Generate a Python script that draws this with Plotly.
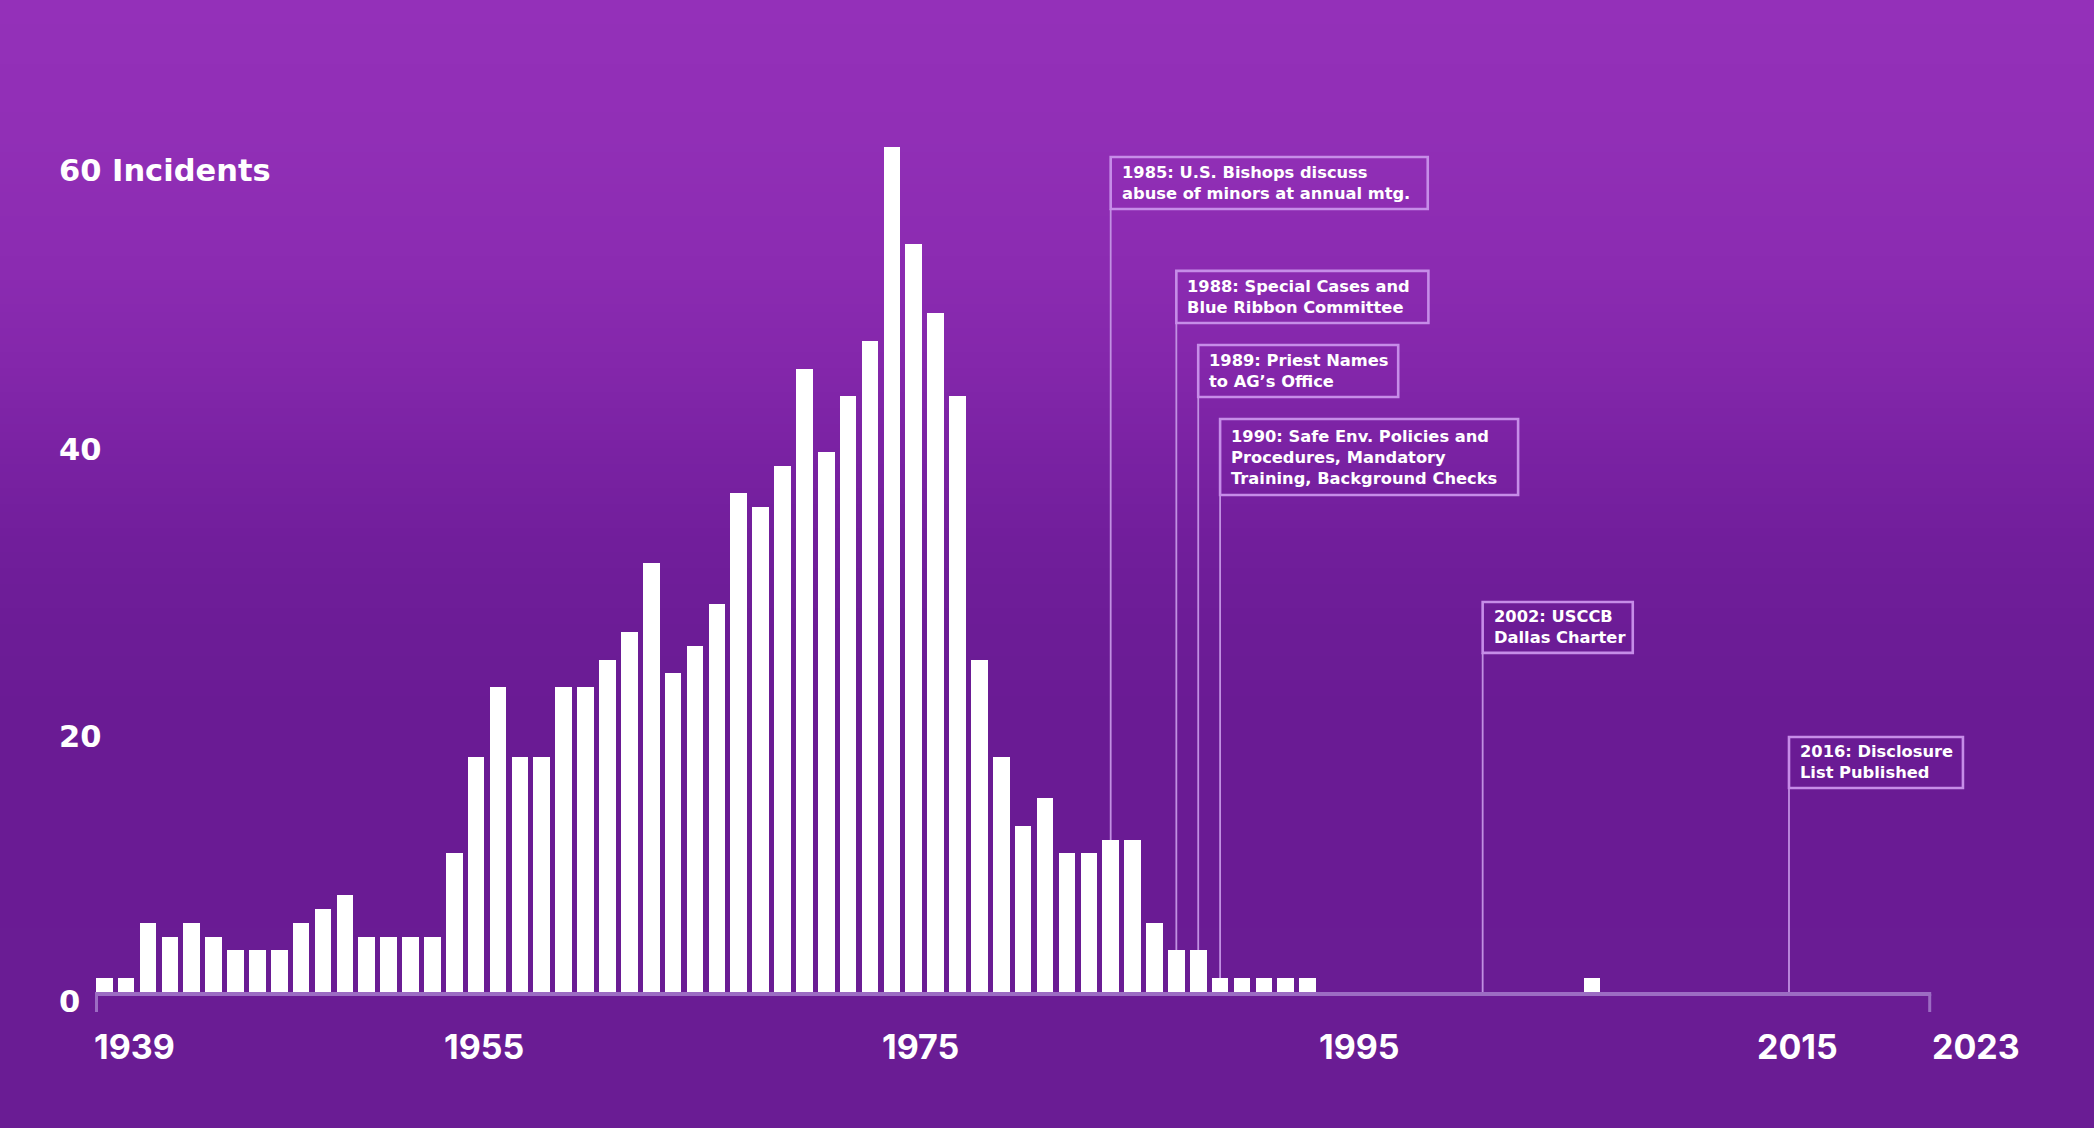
import numpy as np
import plotly.graph_objects as go

# ---------------- data ----------------
years = list(range(1939, 1995)) + [2007]
incidents = [1, 1, 5, 4, 5, 4, 3, 3, 3, 5, 6, 7, 4, 4, 4, 4,          # 1939-1954
             10, 17, 22, 17, 17, 22, 22, 24, 26, 31, 23, 25, 28,      # 1955-1967
             36, 35, 38, 45, 39, 43, 47, 61, 54, 49, 43, 24, 17,      # 1968-1980
             12, 14, 10, 10, 11, 11, 5, 3, 3, 1, 1, 1, 1, 1,          # 1981-1994
             1]                                                       # 2007

x_tick_years = [1939, 1955, 1975, 1995, 2015, 2023]
x_tick_labels = ["1939", "1955", "1975", "1995", "2015", "2023"]

y_tick_values = [0, 20, 40, 60]
y_tick_labels = ["0", "20", "40", "60 Incidents"]

event_years = [1985, 1988, 1989, 1990, 2002, 2016]
event_heads = ["1985:", "1988:", "1989:", "1990:", "2002:", "2016:"]
event_texts = [
    "U.S. Bishops discuss<br>abuse of minors at annual mtg.",
    "Special Cases and<br>Blue Ribbon Committee",
    "Priest Names<br>to AG’s Office",
    "Safe Env. Policies and<br>Procedures, Mandatory<br>Training, Background Checks",
    "USCCB<br>Dallas Charter",
    "Disclosure<br>List Published",
]

# ---------------- layout / style constants ----------------
W, H = 2094, 1128
X_RANGE = [1934.238, 2029.94]
Y_RANGE = [-9.82, 71.62]
PX_PER_YEAR = W / (X_RANGE[1] - X_RANGE[0])
PX_PER_UNIT = H / (Y_RANGE[1] - Y_RANGE[0])

# event box geometry: width (years), top, bottom (data units)
box_widths = [14.49, 11.52, 9.14, 13.62, 6.86, 7.95]
box_tops = [60.29, 52.06, 46.71, 41.37, 28.16, 18.41]
box_bottoms = [56.53, 48.30, 42.96, 35.88, 24.48, 14.73]

# decorative label positions for the y labels (data units)
y_label_pos = [-0.72, 18.48, 39.2, 59.28]

FONT = "Inter, 'Open Sans', 'DejaVu Sans', sans-serif"
WIDE_FONT = "'DejaVu Sans', 'Open Sans', sans-serif"
BORDER = "#C68DE8"
LINE_C = "#C190E2"
AXIS_C = "#9C6CC3"

grad_pos = [0.0, 0.12, 0.24, 0.32, 0.40, 0.48, 0.56, 0.64, 1.0]
grad_rgb = [(148, 48, 185), (145, 47, 182), (139, 43, 177), (132, 39, 171),
            (122, 34, 163), (113, 30, 155), (108, 28, 150), (106, 27, 148), (106, 28, 148)]

shapes = []
# background gradient bands
step = 8
for y0 in range(0, H, step):
    f = (y0 + step / 2) / H
    c = [int(round(np.interp(f, grad_pos, [g[i] for g in grad_rgb]))) for i in range(3)]
    shapes.append(dict(type="rect", xref="paper", yref="paper", x0=0, x1=1,
                       y0=1 - (y0 + step + 1) / H, y1=1 - y0 / H,
                       fillcolor=f"rgb({c[0]},{c[1]},{c[2]})", line=dict(width=0), layer="below"))

# event leader lines (behind bars)
for yr, yb in zip(event_years, box_bottoms):
    shapes.append(dict(type="line", xref="x", yref="y", x0=yr, x1=yr, y0=0, y1=yb,
                       line=dict(color=LINE_C, width=1.8), layer="below"))

# axis baseline & end ticks
ax_left = years[0] - 0.42
ax_right = 2022.5
base_y = -2.0 / PX_PER_UNIT
tick_len = 20.0 / PX_PER_UNIT
shapes.append(dict(type="line", xref="x", yref="y", x0=ax_left, x1=ax_right, y0=base_y, y1=base_y,
                   line=dict(color=AXIS_C, width=4), layer="above"))
for xe in (ax_left + 1.5 / PX_PER_YEAR, ax_right - 1.5 / PX_PER_YEAR):
    shapes.append(dict(type="line", xref="x", yref="y", x0=xe, x1=xe, y0=base_y, y1=-tick_len,
                       line=dict(color=AXIS_C, width=3), layer="above"))

# event boxes
for yr, w, yt, yb in zip(event_years, box_widths, box_tops, box_bottoms):
    shapes.append(dict(type="rect", xref="x", yref="y", x0=yr, x1=yr + w, y0=yb, y1=yt,
                       line=dict(color=BORDER, width=2.6), fillcolor="rgba(0,0,0,0)", layer="above"))

annotations = []
# event texts
for yr, head, txt, yt, yb in zip(event_years, event_heads, event_texts, box_tops, box_bottoms):
    annotations.append(dict(x=yr + 9.0 / PX_PER_YEAR, y=(yt + yb) / 2, xref="x", yref="y",
                            xanchor="left", yanchor="middle", align="left", showarrow=False,
                            text=f"{head} {txt}",
                            font=dict(family=WIDE_FONT, size=16.3, color="white", weight=700)))

# x labels (left aligned at the bar's left edge)
x_label_y = -55.0 / PX_PER_UNIT
for yr, lab in zip(x_tick_years, x_tick_labels):
    annotations.append(dict(x=yr - 0.55, y=x_label_y, xref="x", yref="y", xanchor="left",
                            yanchor="middle", showarrow=False, text=lab,
                            font=dict(family=FONT, size=34, color="white", weight=700)))

# y labels
for pos, lab in zip(y_label_pos, y_tick_labels):
    annotations.append(dict(x=57.0 / W, y=pos, xref="paper", yref="y", xanchor="left",
                            yanchor="middle", showarrow=False, text=lab,
                            font=dict(family=WIDE_FONT, size=30.5, color="white", weight=700)))

fig = go.Figure()
fig.add_trace(go.Bar(x=years, y=incidents, width=0.76,
                     marker=dict(color="white", line=dict(width=0)),
                     hoverinfo="x+y"))

fig.update_layout(
    width=W, height=H, autosize=False,
    margin=dict(l=0, r=0, t=0, b=0, pad=0),
    paper_bgcolor="#6A1B94", plot_bgcolor="rgba(0,0,0,0)",
    showlegend=False, bargap=0,
    xaxis=dict(range=X_RANGE, domain=[0, 1], visible=False, fixedrange=True),
    yaxis=dict(range=Y_RANGE, domain=[0, 1], visible=False, fixedrange=True),
    shapes=shapes, annotations=annotations,
    font=dict(family=FONT, color="white"),
)

fig.write_html("out.html", config={"displayModeBar": False},
               post_script="document.body.style.margin='0';document.body.style.overflow='hidden';")
